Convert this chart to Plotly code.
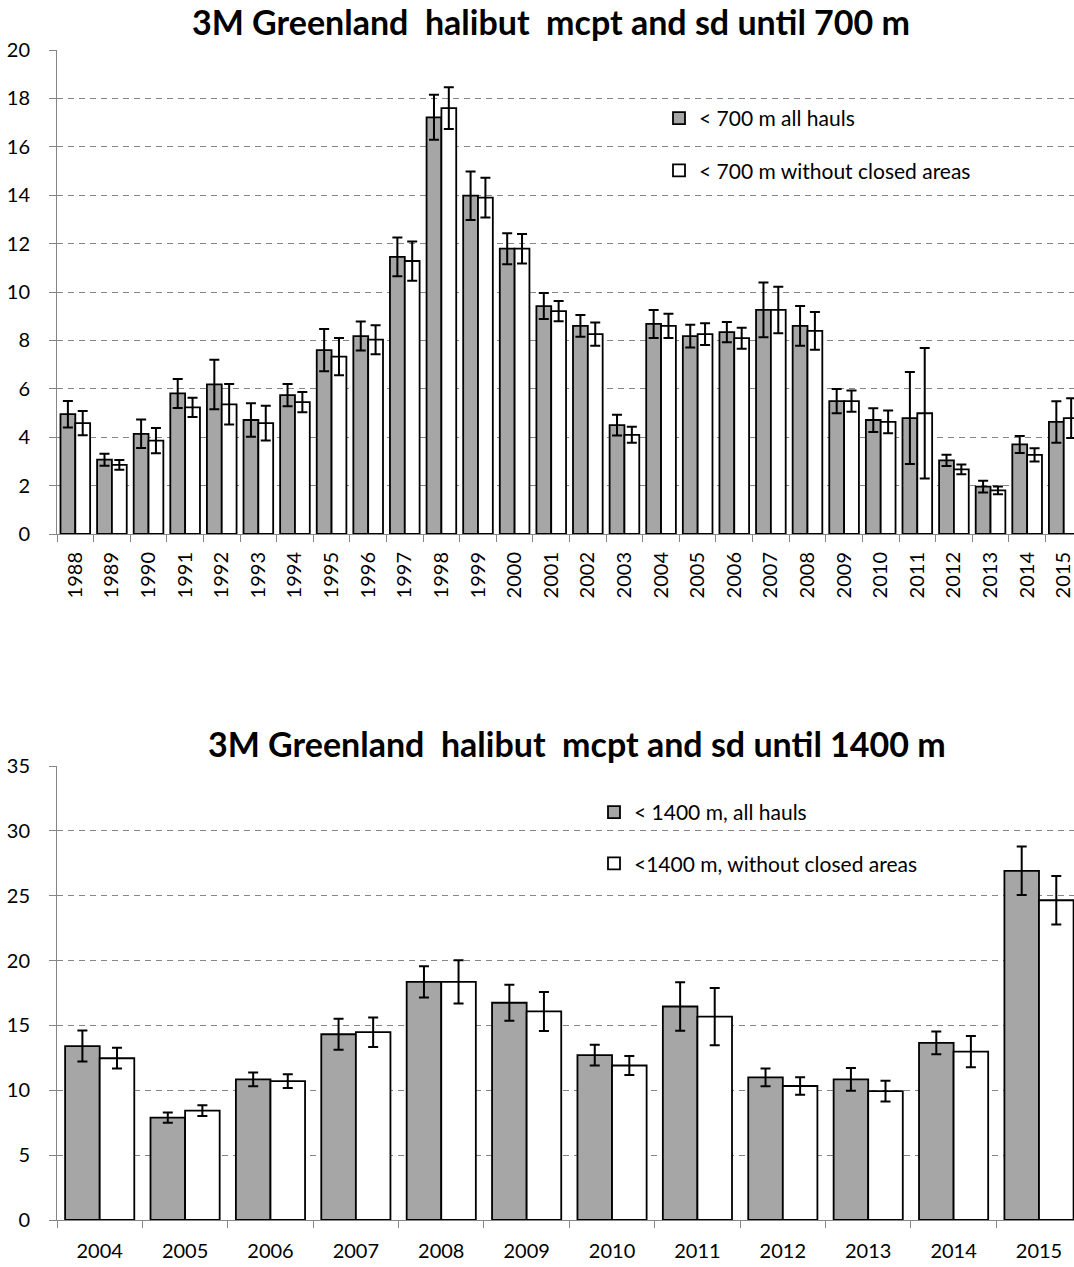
import plotly.graph_objects as go

# ---- < 700 m survey strata ----
years_700 = ["1988", "1989", "1990", "1991", "1992", "1993", "1994", "1995",
             "1996", "1997", "1998", "1999", "2000", "2001", "2002", "2003",
             "2004", "2005", "2006", "2007", "2008", "2009", "2010", "2011",
             "2012", "2013", "2014", "2015"]
mean_700_all = [4.95, 3.07, 4.14, 5.81, 6.18, 4.71, 5.74, 7.60, 8.18, 11.45,
                17.22, 13.98, 11.79, 9.42, 8.60, 4.50, 8.68, 8.18, 8.34, 9.26,
                8.60, 5.49, 4.71, 4.79, 3.04, 1.96, 3.70, 4.63]
sd_700_all = [0.55, 0.25, 0.59, 0.60, 1.02, 0.69, 0.46, 0.87, 0.60, 0.80,
              0.93, 1.00, 0.64, 0.54, 0.45, 0.43, 0.58, 0.47, 0.42, 1.13,
              0.82, 0.50, 0.49, 1.90, 0.23, 0.24, 0.35, 0.86]
mean_700_open = [4.58, 2.86, 3.86, 5.23, 5.36, 4.58, 5.45, 7.33, 8.03, 11.28,
                 17.60, 13.90, 11.79, 9.21, 8.26, 4.10, 8.60, 8.26, 8.09, 9.26,
                 8.39, 5.49, 4.63, 4.99, 2.67, 1.80, 3.27, 4.79]
sd_700_open = [0.50, 0.20, 0.52, 0.40, 0.84, 0.72, 0.42, 0.77, 0.60, 0.81,
               0.86, 0.82, 0.61, 0.42, 0.48, 0.33, 0.50, 0.45, 0.43, 0.96,
               0.78, 0.44, 0.47, 2.70, 0.20, 0.16, 0.27, 0.82]

# ---- < 1400 m survey strata ----
years_1400 = ["2004", "2005", "2006", "2007", "2008", "2009", "2010", "2011",
              "2012", "2013", "2014", "2015"]
mean_1400_all = [13.41, 7.89, 10.84, 14.32, 18.36, 16.75, 12.71, 16.46,
                 11.00, 10.84, 13.65, 26.92]
sd_1400_all = [1.20, 0.40, 0.53, 1.20, 1.20, 1.39, 0.80, 1.87, 0.68, 0.88,
               0.88, 1.87]
mean_1400_open = [12.47, 8.43, 10.70, 14.48, 18.36, 16.08, 11.91, 15.68,
                  10.33, 9.93, 12.98, 24.65]
sd_1400_open = [0.80, 0.42, 0.53, 1.14, 1.67, 1.50, 0.74, 2.20, 0.68, 0.80,
                1.20, 1.87]

titles = ["3M Greenland  halibut  mcpt and sd until 700 m",
          "3M Greenland  halibut  mcpt and sd until 1400 m"]
labels_700 = ["< 700 m all hauls", "< 700 m without closed areas"]
labels_1400 = ["< 1400 m, all hauls", "<1400 m, without closed areas"]

W, H = 1074, 1267
FONT = "Lato"
GREY_FILL = "#a6a6a6"
AXIS_GREY = "#868686"


def err(values):
    return dict(type="data", array=values, color="black", thickness=2, width=5)


fig = go.Figure()

bar_line = dict(color="black", width=1.8)

fig.add_trace(go.Bar(x=years_700, y=mean_700_all, error_y=err(sd_700_all),
                     name=labels_700[0], marker=dict(color=GREY_FILL, line=bar_line),
                     xaxis="x", yaxis="y", legend="legend", legendgroup="a"))
fig.add_trace(go.Bar(x=years_700, y=mean_700_open, error_y=err(sd_700_open),
                     name=labels_700[1], marker=dict(color="white", line=bar_line),
                     xaxis="x", yaxis="y", legend="legend", legendgroup="b"))
fig.add_trace(go.Bar(x=years_1400, y=mean_1400_all, error_y=err(sd_1400_all),
                     name=labels_1400[0], marker=dict(color=GREY_FILL, line=bar_line),
                     xaxis="x2", yaxis="y2", legend="legend2", legendgroup="c"))
fig.add_trace(go.Bar(x=years_1400, y=mean_1400_open, error_y=err(sd_1400_open),
                     name=labels_1400[1], marker=dict(color="white", line=bar_line),
                     xaxis="x2", yaxis="y2", legend="legend2", legendgroup="d"))


def px_x(v):
    return v / W


def px_y(v):
    return 1 - v / H


common_x = dict(type="category", showline=True, linecolor=AXIS_GREY, linewidth=1,
                ticks="outside", tickson="boundaries", ticklen=7, tickcolor=AXIS_GREY,
                showgrid=False, zeroline=False, automargin=False,
                tickfont=dict(family=FONT, size=20, color="black"))
common_y = dict(showline=True, linecolor=AXIS_GREY, linewidth=1,
                ticks="outside", ticklen=7, tickcolor=AXIS_GREY,
                showgrid=True, gridcolor=AXIS_GREY, gridwidth=1, griddash="6px,5px",
                zeroline=False, ticklabelstandoff=15, automargin=False,
                tickfont=dict(family=FONT, size=20, color="black"))

fig.update_layout(
    width=W, height=H,
    margin=dict(l=0, r=0, t=0, b=0),
    paper_bgcolor="white", plot_bgcolor="white",
    barmode="group", bargap=0.19, bargroupgap=0,
    font=dict(family=FONT, color="black"),
    xaxis=dict(common_x, domain=[px_x(57), 1], anchor="y", range=[-0.5, 27.28],
               tickangle=-90, ticklabelstandoff=9),
    yaxis=dict(common_y, domain=[px_y(534), px_y(50)], anchor="x", range=[0, 20],
               dtick=2),
    xaxis2=dict(common_x, domain=[px_x(57), 1], anchor="y2", range=[-0.5, 11.41],
                tickangle=0, ticklabelstandoff=13),
    yaxis2=dict(common_y, domain=[px_y(1220), px_y(766)], anchor="x2", range=[0, 35],
                dtick=5),
    legend=dict(x=px_x(659), y=px_y(98), xanchor="left", yanchor="top",
                bgcolor="rgba(0,0,0,0)", tracegroupgap=22, itemwidth=30,
                font=dict(family=FONT, size=21, color="black")),
    legend2=dict(x=px_x(594), y=px_y(792), xanchor="left", yanchor="top",
                 bgcolor="rgba(0,0,0,0)", tracegroupgap=21, itemwidth=30,
                 font=dict(family=FONT, size=21, color="black")),
    annotations=[
        dict(text="<b>" + titles[0] + "</b>", x=px_x(551), y=px_y(22),
             xref="paper", yref="paper", xanchor="center", yanchor="middle",
             showarrow=False, font=dict(family=FONT, size=34, color="black")),
        dict(text="<b>" + titles[1] + "</b>", x=px_x(577), y=px_y(743),
             xref="paper", yref="paper", xanchor="center", yanchor="middle",
             showarrow=False, font=dict(family=FONT, size=34, color="black")),
    ],
)

fig.write_html("out.html")
